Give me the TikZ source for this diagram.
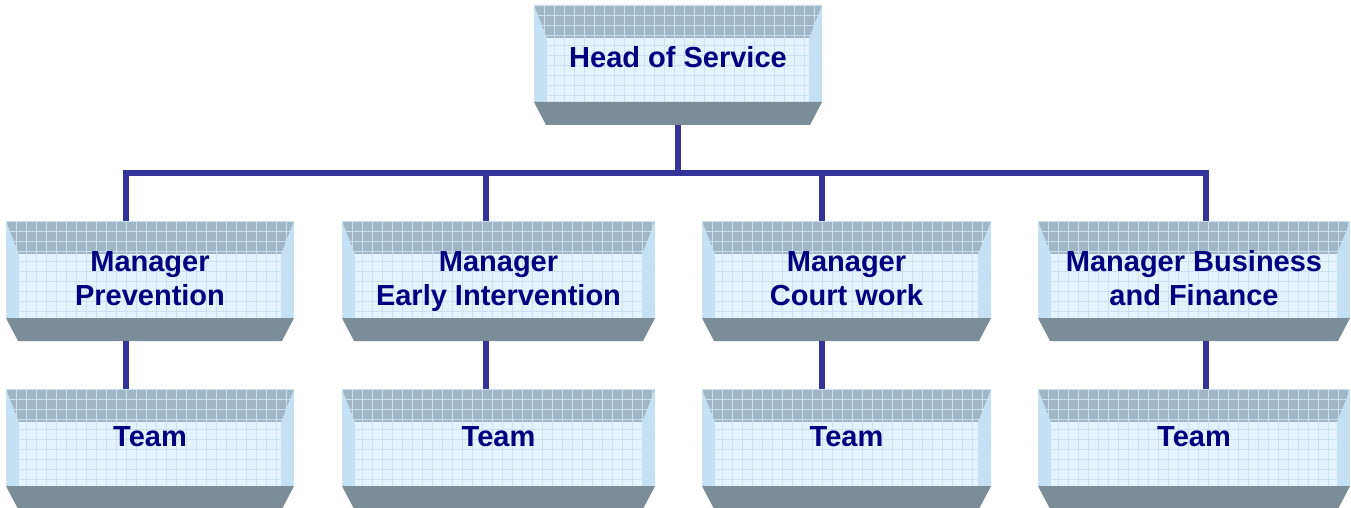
\documentclass[tikz,border=0pt]{standalone}
\usepackage{fontspec}
\setmainfont{Liberation Sans}

\definecolor{boxtop}{RGB}{160,182,196}
\definecolor{boxside}{RGB}{196,224,244}
\definecolor{boxfront}{RGB}{228,243,253}
\definecolor{boxbottom}{RGB}{123,141,153}
\definecolor{gridblue}{RGB}{200,226,244}
\definecolor{linkblue}{RGB}{51,51,153}
\definecolor{navytext}{RGB}{0,0,128}

\tikzset{
  boxtext/.style  = {text=navytext, font=\bfseries\fontsize{29}{34}\selectfont,
                     align=center, anchor=base, inner sep=0},
  gridline/.style = {draw=gridblue, line width=0.8pt},
  link/.style     = {draw=linkblue, line width=6pt},
}

% #1 name, #2 left, #3 right, #4 top, #5 last baseline below top, #6 text
\newcommand\chartbox[6]{%
  \fill[boxside]  (#2,#4) rectangle (#3,#4+97);
  \fill[boxtop]   (#2,#4) -- (#3,#4) -- (#3-13,#4+33) -- (#2+13,#4+33) -- cycle;
  \fill[boxfront] (#2+13,#4+33) rectangle (#3-13,#4+97);
  \begin{scope}[shift={(#2,#4)}]
    \draw[gridline] (0,0) grid[step=10pt] (#3-#2,97);
  \end{scope}
  \fill[boxbottom] (#2,#4+97) -- (#3,#4+97) -- (#3-12,#4+120) -- (#2+12,#4+120) -- cycle;
  \node[inner sep=0, minimum width=#3-#2, minimum height=120] (#1) at ({(#2+#3)/2},#4+60) {};
  \node[boxtext] (#1-text) at ({(#2+#3)/2},#4+#5) {#6};
}

\begin{document}
\begin{tikzpicture}[x=1pt, y=-1pt]
  \useasboundingbox (0,0) rectangle (1351,508);

  \chartbox{head}{534}{822}{5}{63}{Head of Service}

  \chartbox{prev} {6}   {294} {221}{84}{Manager\\Prevention}
  \chartbox{early}{342} {655} {221}{84}{Manager\\Early Intervention}
  \chartbox{court}{702} {991} {221}{84}{Manager\\Court work}
  \chartbox{biz}  {1038}{1350}{221}{84}{Manager Business\\and Finance}

  \chartbox{prevteam} {6}   {294} {389}{57}{Team}
  \chartbox{earlyteam}{342} {655} {389}{57}{Team}
  \chartbox{courtteam}{702} {991} {389}{57}{Team}
  \chartbox{bizteam}  {1038}{1350}{389}{57}{Team}

  \coordinate (bar1) at (126, 173);
  \coordinate (bar2) at (486, 173);
  \coordinate (bar3) at (822, 173);
  \coordinate (bar4) at (1206,173);

  \draw[link] (head.south) -- (head.south |- bar1);
  \draw[link] (prev.north -| bar1) -- (bar1) -- (bar4) -- (biz.north -| bar4);
  \draw[link] (early.north -| bar2) -- (bar2);
  \draw[link] (court.north -| bar3) -- (bar3);

  \draw[link] (prev.south -| bar1)  -- (prevteam.north -| bar1);
  \draw[link] (early.south -| bar2) -- (earlyteam.north -| bar2);
  \draw[link] (court.south -| bar3) -- (courtteam.north -| bar3);
  \draw[link] (biz.south -| bar4)   -- (bizteam.north -| bar4);
\end{tikzpicture}
\end{document}
